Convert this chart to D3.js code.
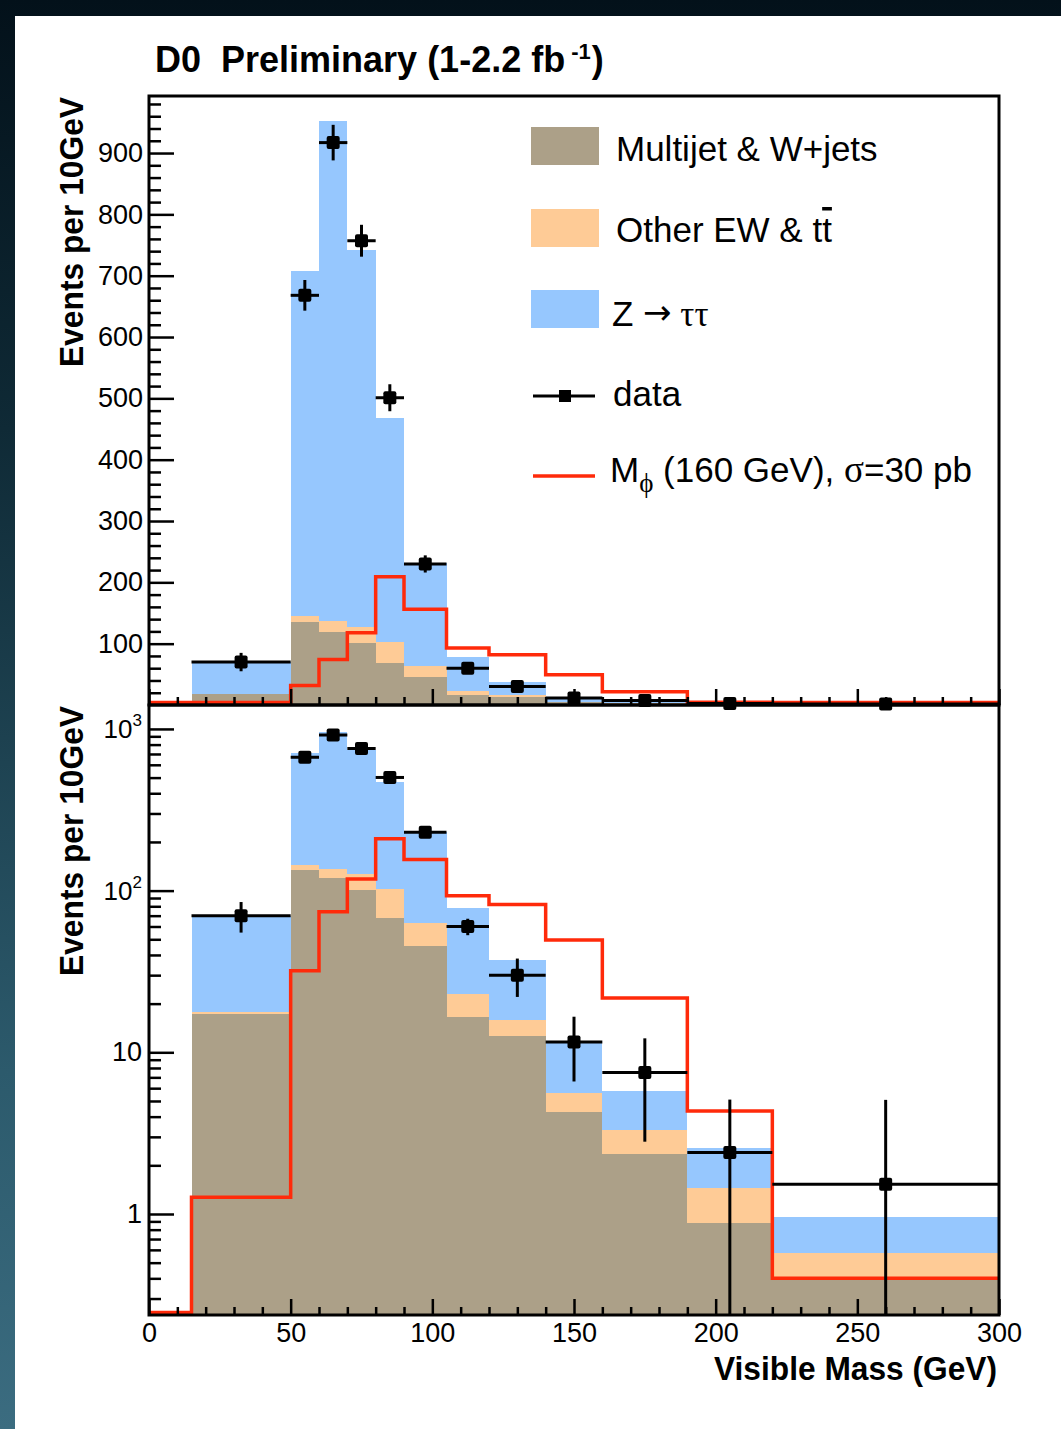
<!DOCTYPE html>
<html>
<head>
<meta charset="utf-8">
<script src="https://cdn.jsdelivr.net/npm/d3@7"></script>
<style>
  html, body { margin: 0; padding: 0; }
  body { width: 1061px; height: 1429px; overflow: hidden; background: linear-gradient(#03111a, #0f2a36 30%, #2c5a6c 75%, #3b6c80); }
  svg { display: block; }
  text { font-family: 'Liberation Sans', Arial, Helvetica, sans-serif; fill: #000; }
  .serif { font-family: 'Liberation Serif', 'DejaVu Serif', serif; }
  .arrow { font-family: 'DejaVu Sans', sans-serif; }
</style>
</head>
<body>
<svg width="1061" height="1429"></svg>
<script>
'use strict'

// histogram bins (GeV)
const binEdges = [15, 50, 60, 70, 80, 90, 105, 120, 140, 160, 190, 220, 300]

// stacked backgrounds, events per 10 GeV
const multijet = [17.3, 135, 119, 101, 68, 45.5, 16.6, 12.6, 4.3, 2.34, 0.88, 0.39]
const otherEW = [0.5, 10, 18, 26, 34, 17.5, 6.4, 3.2, 1.33, 0.97, 0.56, 0.18]
const ztautau = [51.7, 563, 815, 615, 366, 169, 55, 21.4, 5.97, 2.48, 1.13, 0.39]

// data points
const dataValues = [70, 668, 917, 757, 501, 230, 60, 30, 11.6, 7.5, 2.4, 1.53]
const dataErrors = [15, 25, 29, 26, 22, 14, 7, 8, 5, 4.7, 2.7, 3.55]

// signal M_phi = 160 GeV
const signalEdges = [0, 15, 50, 60, 70, 80, 90, 105, 120, 140, 160, 190, 220, 300]
const signalValues = [0, 1.27, 32, 74, 118, 209, 156, 93, 82, 49.5, 21.7, 4.33, 0.4]

// axis ticks
const xTicks = [0, 50, 100, 150, 200, 250, 300]
const linTicks = [100, 200, 300, 400, 500, 600, 700, 800, 900]
const logTicks = [1, 10, 100, 1000]

const colors = {
  multijet: '#aca088',
  otherEW: '#fecb96',
  ztautau: '#96c7fe',
  signal: '#ff2a0a'
}

const W = 1061, H = 1429
const frameLeft = 149, frameRight = 999
const topBox = { top: 96, bottom: 705 }
const lowBox = { top: 705, bottom: 1315 }

const svg = d3.select('svg')

svg.append('rect')
  .attr('x', 15).attr('y', 16)
  .attr('width', W - 15).attr('height', H - 16)
  .attr('fill', '#fff')

const x = d3.scaleLinear().domain([0, 300]).range([frameLeft, frameRight])
const yLin = d3.scaleLinear().domain([0, 993]).range([topBox.bottom, topBox.top])
const yLog = d3.scaleLog().domain([0.2373, 1406]).range([lowBox.bottom, lowBox.top])

const rows = binEdges.slice(0, -1).map((lo, i) => ({
  lo,
  hi: binEdges[i + 1],
  multijet: multijet[i],
  otherEW: otherEW[i],
  ztautau: ztautau[i]
}))
const stacked = d3.stack().keys(['multijet', 'otherEW', 'ztautau'])(rows)

function drawPanel(y, box, id, isLog) {
  const ymin = y.domain()[0]
  const yc = v => y(Math.max(v, ymin))

  svg.append('clipPath').attr('id', id)
    .append('rect')
    .attr('x', frameLeft).attr('y', box.top)
    .attr('width', frameRight - frameLeft).attr('height', box.bottom - box.top + 2)

  const g = svg.append('g').attr('clip-path', `url(#${id})`)

  // stacked histograms
  g.selectAll('g.layer')
    .data(stacked)
    .enter()
    .append('g')
    .attr('fill', d => colors[d.key])
    .attr('shape-rendering', 'crispEdges')
    .selectAll('rect')
    .data(d => d)
    .enter()
    .append('rect')
    .attr('x', d => x(d.data.lo))
    .attr('width', d => x(d.data.hi) - x(d.data.lo))
    .attr('y', d => yc(d[1]))
    .attr('height', d => Math.max(0, Math.min(yc(d[0]), box.bottom) - yc(d[1])))

  // signal outline (kept just above the frame line when it sits on the axis)
  const pts = []
  signalValues.forEach((v, i) => {
    pts.push([signalEdges[i], v], [signalEdges[i + 1], v])
  })
  g.append('path')
    .datum(pts)
    .attr('fill', 'none')
    .attr('stroke', colors.signal)
    .attr('stroke-width', 3.5)
    .attr('d', d3.line().x(d => x(d[0])).y(d => Math.min(yc(d[1]), box.bottom - 2.5)))

  // axes
  const xMajor = d3.axisBottom(x).tickValues(xTicks).tickSize(-16).tickPadding(8)
  if (!isLog) xMajor.tickFormat('')
  const xa = svg.append('g')
    .attr('transform', `translate(0,${box.bottom})`)
    .call(xMajor)
  xa.select('.domain').remove()
  xa.attr('font-size', 27).attr('font-family', null)

  const xm = svg.append('g')
    .attr('transform', `translate(0,${box.bottom})`)
    .call(d3.axisBottom(x).tickValues(d3.range(10, 300, 10).filter(v => v % 50)).tickSize(-8).tickFormat(''))
  xm.select('.domain').remove()

  let yMajor, yMinorVals
  if (isLog) {
    yMajor = d3.axisLeft(y).tickValues(logTicks).tickSize(-25).tickPadding(7)
    yMinorVals = y.ticks().filter(v => !logTicks.includes(v) && v >= ymin && v <= y.domain()[1])
  } else {
    yMajor = d3.axisLeft(y).tickValues(linTicks).tickSize(-25).tickPadding(6)
    yMinorVals = d3.range(20, y.domain()[1], 20).filter(v => v % 100)
  }
  const ya = svg.append('g')
    .attr('transform', `translate(${frameLeft},0)`)
    .call(yMajor)
  ya.select('.domain').remove()
  ya.attr('font-size', 27).attr('font-family', null)
  if (isLog) {
    ya.selectAll('.tick text').each(function (d) {
      const t = d3.select(this).text(null)
      const e = Math.round(Math.log10(d))
      if (e <= 1) {
        t.append('tspan').text(d)
      } else {
        t.append('tspan').attr('font-size', 26).text('10')
        t.append('tspan').attr('font-size', 17).attr('dy', '-0.7em').text(e)
      }
    })
  }

  const ym = svg.append('g')
    .attr('transform', `translate(${frameLeft},0)`)
    .call(d3.axisLeft(y).tickValues(yMinorVals).tickSize(-12).tickFormat(''))
  ym.select('.domain').remove()

  svg.selectAll('.tick line').attr('stroke', '#000').attr('stroke-width', 2.5)

  // data with error bars
  const dg = svg.append('g')
  rows.forEach((r, i) => {
    const cx = x((r.lo + r.hi) / 2)
    const cy = yc(dataValues[i])
    dg.append('line')
      .attr('x1', x(r.lo)).attr('x2', x(r.hi))
      .attr('y1', cy).attr('y2', cy)
      .attr('stroke', '#000').attr('stroke-width', 3)
    dg.append('line')
      .attr('x1', cx).attr('x2', cx)
      .attr('y1', yc(dataValues[i] + dataErrors[i]))
      .attr('y2', yc(dataValues[i] - dataErrors[i]))
      .attr('stroke', '#000').attr('stroke-width', 3)
    dg.append('rect')
      .attr('x', cx - 6.5).attr('y', cy - 6.5)
      .attr('width', 13).attr('height', 13)
      .attr('rx', 2)
      .attr('fill', '#000')
  })

  // frame
  svg.append('rect')
    .attr('x', frameLeft).attr('y', box.top)
    .attr('width', frameRight - frameLeft).attr('height', box.bottom - box.top)
    .attr('fill', 'none')
    .attr('stroke', '#000')
    .attr('stroke-width', 3)

  // y title
  svg.append('text')
    .attr('transform', `translate(83,${box.top + 1}) rotate(-90)`)
    .attr('text-anchor', 'end')
    .attr('font-weight', 'bold')
    .attr('font-size', 33)
    .attr('textLength', 270)
    .attr('lengthAdjust', 'spacingAndGlyphs')
    .text('Events per 10GeV')
}

drawPanel(yLin, topBox, 'clipTop', false)
drawPanel(yLog, lowBox, 'clipLow', true)

// x title
svg.append('text')
  .attr('x', 997).attr('y', 1380)
  .attr('text-anchor', 'end')
  .attr('font-weight', 'bold')
  .attr('font-size', 34)
  .attr('textLength', 283)
  .attr('lengthAdjust', 'spacingAndGlyphs')
  .text('Visible Mass (GeV)')

// title
const title = svg.append('text')
  .attr('x', 155).attr('y', 72)
  .attr('font-weight', 'bold')
  .attr('font-size', 36)
  .style('white-space', 'pre')
title.append('tspan').text('D0  Preliminary (1-2.2 fb')
title.append('tspan').attr('dx', 6).attr('dy', -13).attr('font-size', 22).text('-1')
title.append('tspan').attr('dx', 1).attr('dy', 13).text(')')

// legend
const legend = svg.append('g').attr('font-size', 35)
const swatches = [
  { key: 'multijet', y: 127 },
  { key: 'otherEW', y: 209 },
  { key: 'ztautau', y: 290 }
]
legend.selectAll('rect.sw')
  .data(swatches)
  .enter()
  .append('rect')
  .attr('x', 531).attr('y', d => d.y)
  .attr('width', 68).attr('height', 38)
  .attr('fill', d => colors[d.key])

legend.append('text').attr('x', 616).attr('y', 161).text('Multijet & W+jets')

const ew = legend.append('text').attr('x', 616).attr('y', 242)
ew.append('tspan').text('Other EW & t')
ew.append('tspan').style('text-decoration', 'overline').text('t')

const zt = legend.append('text').attr('x', 612).attr('y', 326).style('white-space', 'pre')
zt.append('tspan').text('Z ')
zt.append('tspan').attr('class', 'arrow').attr('font-size', 34).attr('dy', -2).text('\u2192')
zt.append('tspan').attr('class', 'serif').attr('dy', 2).text(' \u03c4\u03c4')

legend.append('line')
  .attr('x1', 533).attr('x2', 595).attr('y1', 396).attr('y2', 396)
  .attr('stroke', '#000').attr('stroke-width', 3)
legend.append('rect')
  .attr('x', 559).attr('y', 390).attr('width', 12).attr('height', 12)
  .attr('fill', '#000')
legend.append('text').attr('x', 613).attr('y', 406).text('data')

legend.append('line')
  .attr('x1', 533).attr('x2', 595).attr('y1', 476).attr('y2', 476)
  .attr('stroke', colors.signal).attr('stroke-width', 3.5)
const sig = legend.append('text').attr('x', 610).attr('y', 482).style('white-space', 'pre')
sig.append('tspan').text('M')
sig.append('tspan').attr('class', 'serif').attr('font-size', 27).attr('dy', 10).text('\u03d5')
sig.append('tspan').attr('dy', -10).text(' (160 GeV), ')
sig.append('tspan').attr('class', 'serif').attr('font-size', 37).text('\u03c3')
sig.append('tspan').text('=30 pb')
</script>
</body>
</html>
